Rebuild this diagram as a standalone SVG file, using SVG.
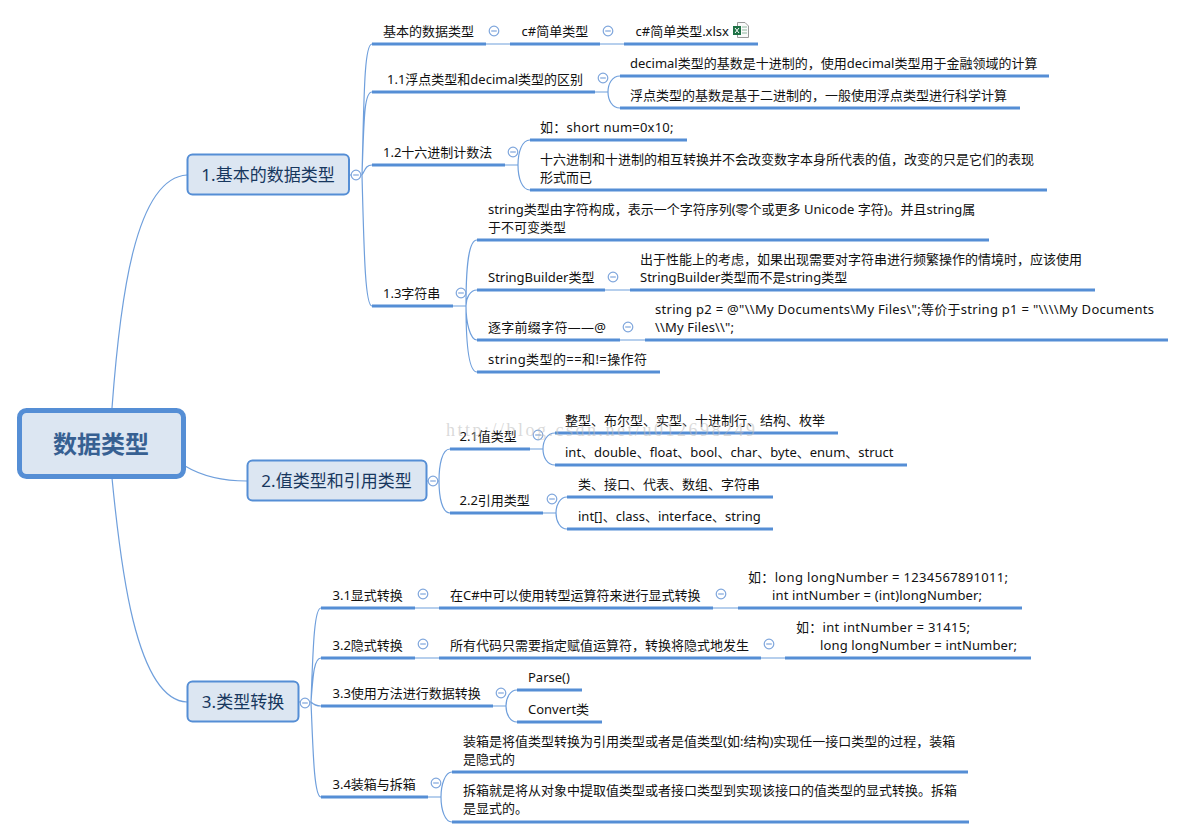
<svg xmlns="http://www.w3.org/2000/svg" width="1185" height="839" viewBox="0 0 1185 839">
<style>
text{font-family:"Noto Sans","Noto Sans CJK SC",sans-serif;font-size:13px;fill:#111;white-space:pre}
.b{fill:#dce6f2;stroke:#558ed5;stroke-width:2}
.r{fill:#dce6f2;stroke:#558ed5;stroke-width:5}
.m{font-size:17px;fill:#17375e;text-anchor:middle}
.rt{font-size:24px;font-weight:700;fill:#376092;text-anchor:middle}
.c{fill:none;stroke:#6f9fdc;stroke-width:1.2}
.u{fill:none;stroke:#558ed5;stroke-width:3}
.k{fill:#fff;stroke:#7fa6dc;stroke-width:1.2}
.mk{stroke:#7fa6dc;stroke-width:1.2}
.w{font-family:"Liberation Serif",serif;font-size:18px;fill:#bbb;fill-opacity:.55}
</style>
<defs>
<g id="col"><circle class="k" r="4.8"/><path class="mk" d="M-2.800 0H2.800"/></g>
</defs>
<rect width="1185" height="839" fill="#fff"/>
<g id="connectors">
<path class="c" d="M112 408C120 300 135 178 187 175M185 466C205 478 225 481 247 481M112 478C120 560 135 700 187 702"/>
<path class="c" d="M349 175H362M362 175C364 100 364 44 372 44M362 175C364 120 364 92 372 92M362 175C365 170 366 165 372 165M362 175C364 250 365 306 372 306"/>
<path class="c" d="M486 44H510M600 44H624"/>
<path class="c" d="M595 92H608C608 84 612 76 620 76M608 92C608 100 612 108 620 108"/>
<path class="c" d="M505 165H518C518 152 522 140 530 140M518 165C518 178 522 190 530 190"/>
<path class="c" d="M453 306H466C466 270 468 240 477 240M466 306C466 298 470 290 477 290M466 306C466 322 470 340 477 340M466 306C466 340 468 372 477 372M605 290H630M620 340H645"/>
<path class="c" d="M426 481H439C439 465 442 449 450 449M439 481C439 497 442 513 450 513M530 449H543C543 441 547 433 555 433M543 449C543 457 547 465 555 465M543 513H556C556 505 560 497 567 497M556 513C556 521 560 529 567 529"/>
<path class="c" d="M299 702H311M311 702C313 650 314 608 321 608M311 702C313 675 314 658 321 658M311 702C313 704 316 706 321 706M311 702C313 750 314 797 321 797M415 608H439M713 608H738M415 658H439M761 658H785M493 706H506C506 698 510 690 517 690M506 706C506 714 510 722 517 722M428 797H441C441 785 445 772 452 772M441 797C441 810 445 822 452 822"/>
</g>
<g id="root"><rect class="r" x="19.500" y="410.500" width="164" height="66" rx="7"/><text class="rt" x="101" y="453">数据类型</text></g>
<g id="n1"><rect class="b" x="187.500" y="154.500" width="161.500" height="40" rx="5"/><text class="m" x="268" y="181">1.基本的数据类型</text><use href="#col" x="356" y="175"/></g>
<g id="n1-0"><text x="383" y="36">基本的数据类型</text><path class="u" d="M372 44H486"/><use href="#col" x="494" y="31"/></g>
<g id="n1-0-1"><text x="521.500" y="36">c#简单类型</text><path class="u" d="M510 44H600"/><use href="#col" x="608" y="31"/></g>
<g id="n1-0-2"><text x="635.500" y="36">c#简单类型.xlsx</text><path class="u" d="M624 44H758"/>
<path d="M737.500 22.500H745L748.500 26V37.500H737.500Z" fill="#fafafa" stroke="#9a9a9a"/><path d="M742 27H747M742 30H747M742 33H747" stroke="#8fb89f"/><rect x="733" y="26" width="8" height="9" fill="#1e7145"/><path d="M735 28L739 33M739 28L735 33" stroke="#fff"/></g>
<g id="n1-1"><text x="387" y="84">1.1浮点类型和decimal类型的区别</text><path class="u" d="M372 92H595"/><use href="#col" x="603" y="78"/></g>
<g id="n1-1-1"><text x="630" y="68">decimal类型的基数是十进制的，使用decimal类型用于金融领域的计算</text><path class="u" d="M620 76H1049"/></g>
<g id="n1-1-2"><text x="630" y="100">浮点类型的基数是基于二进制的，一般使用浮点类型进行科学计算</text><path class="u" d="M620 108H1020"/></g>
<g id="n1-2"><text x="383" y="157">1.2十六进制计数法</text><path class="u" d="M372 165H505"/><use href="#col" x="513" y="152"/></g>
<g id="n1-2-1"><text x="540" y="132" textLength="133.500" lengthAdjust="spacing">如：short num=0x10;</text><path class="u" d="M530 140H687"/></g>
<g id="n1-2-2"><text x="540" y="164">十六进制和十进制的相互转换并不会改变数字本身所代表的值，改变的只是它们的表现</text><text x="540" y="182">形式而已</text><path class="u" d="M530 190H1047"/></g>
<g id="n1-3"><text x="383" y="298">1.3字符串</text><path class="u" d="M372 306H453"/><use href="#col" x="461" y="293"/></g>
<g id="n1-3-1"><text x="488" y="214">string类型由字符构成，表示一个字符序列(零个或更多 Unicode 字符)。并且string属</text><text x="488" y="232">于不可变类型</text><path class="u" d="M477 240H989"/></g>
<g id="n1-3-2"><text x="488" y="282">StringBuilder类型</text><path class="u" d="M477 290H605"/><use href="#col" x="613" y="277"/></g>
<g id="n1-3-2-1"><text x="640" y="264">出于性能上的考虑，如果出现需要对字符串进行频繁操作的情境时，应该使用</text><text x="640" y="282">StringBuilder类型而不是string类型</text><path class="u" d="M630 290H1095"/></g>
<g id="n1-3-3"><text x="488" y="332" textLength="118" lengthAdjust="spacing">逐字前缀字符——@</text><path class="u" d="M477 340H620"/><use href="#col" x="628" y="327"/></g>
<g id="n1-3-3-1"><text x="655" y="314" textLength="499" lengthAdjust="spacing">string p2 = @"\\My Documents\My Files\";等价于string p1 = "\\\\My Documents</text><text x="655" y="332" textLength="79" lengthAdjust="spacing">\\My Files\\";</text><path class="u" d="M645 340H1168"/></g>
<g id="n1-3-4"><text x="488" y="364" textLength="159" lengthAdjust="spacing">string类型的==和!=操作符</text><path class="u" d="M477 372H660"/></g>
<g id="n2"><rect class="b" x="247.500" y="460.500" width="179" height="40" rx="5"/><text class="m" x="336.500" y="487">2.值类型和引用类型</text><use href="#col" x="433" y="481"/></g>
<g id="n2-1"><text x="459.500" y="441">2.1值类型</text><path class="u" d="M450 449H530"/><use href="#col" x="538" y="435"/></g>
<g id="n2-1-1"><text x="565" y="425">整型、布尔型、实型、十进制行、结构、枚举</text><path class="u" d="M555 433H838"/></g>
<g id="n2-1-2"><text x="565" y="457">int、double、float、bool、char、byte、enum、struct</text><path class="u" d="M555 465H907"/></g>
<g id="n2-2"><text x="459.500" y="505">2.2引用类型</text><path class="u" d="M450 513H543"/><use href="#col" x="552" y="499"/></g>
<g id="n2-2-1"><text x="578" y="489">类、接口、代表、数组、字符串</text><path class="u" d="M567 497H773"/></g>
<g id="n2-2-2"><text x="578" y="521">int[]、class、interface、string</text><path class="u" d="M567 529H773"/></g>
<g id="n3"><rect class="b" x="187.500" y="681.500" width="111" height="40" rx="5"/><text class="m" x="243" y="708">3.类型转换</text><use href="#col" x="305" y="703"/></g>
<g id="n3-1"><text x="332.500" y="600">3.1显式转换</text><path class="u" d="M321 608H415"/><use href="#col" x="423" y="594"/></g>
<g id="n3-1-1"><text x="450" y="600">在C#中可以使用转型运算符来进行显式转换</text><path class="u" d="M439 608H713"/><use href="#col" x="721" y="594"/></g>
<g id="n3-1-2"><text x="748" y="582" textLength="260" lengthAdjust="spacing">如：long longNumber = 1234567891011;</text><text x="772" y="600" textLength="210" lengthAdjust="spacing">int intNumber = (int)longNumber;</text><path class="u" d="M738 608H1022"/></g>
<g id="n3-2"><text x="332.500" y="650">3.2隐式转换</text><path class="u" d="M321 658H415"/><use href="#col" x="423" y="644"/></g>
<g id="n3-2-1"><text x="450" y="650">所有代码只需要指定赋值运算符，转换将隐式地发生</text><path class="u" d="M439 658H761"/><use href="#col" x="769" y="644"/></g>
<g id="n3-2-2"><text x="796" y="632" textLength="174" lengthAdjust="spacing">如：int intNumber = 31415;</text><text x="820" y="650" textLength="197" lengthAdjust="spacing">long longNumber = intNumber;</text><path class="u" d="M785 658H1031"/></g>
<g id="n3-3"><text x="332.500" y="698">3.3使用方法进行数据转换</text><path class="u" d="M321 706H493"/><use href="#col" x="501" y="693"/></g>
<g id="n3-3-1"><text x="528" y="682">Parse()</text><path class="u" d="M517 690H582"/></g>
<g id="n3-3-2"><text x="528" y="714">Convert类</text><path class="u" d="M517 722H602"/></g>
<g id="n3-4"><text x="332.500" y="789">3.4装箱与拆箱</text><path class="u" d="M321 797H428"/><use href="#col" x="436" y="783"/></g>
<g id="n3-4-1"><text x="463" y="746">装箱是将值类型转换为引用类型或者是值类型(如:结构)实现任一接口类型的过程，装箱</text><text x="463" y="764">是隐式的</text><path class="u" d="M452 772H968"/></g>
<g id="n3-4-2"><text x="463" y="795">拆箱就是将从对象中提取值类型或者接口类型到实现该接口的值类型的显式转换。拆箱</text><text x="463" y="813">是显式的。</text><path class="u" d="M452 822H969"/></g>
<text class="w" x="446" y="436" textLength="309" lengthAdjust="spacing">http://blog.csdn.net/u012698249</text>
</svg>
